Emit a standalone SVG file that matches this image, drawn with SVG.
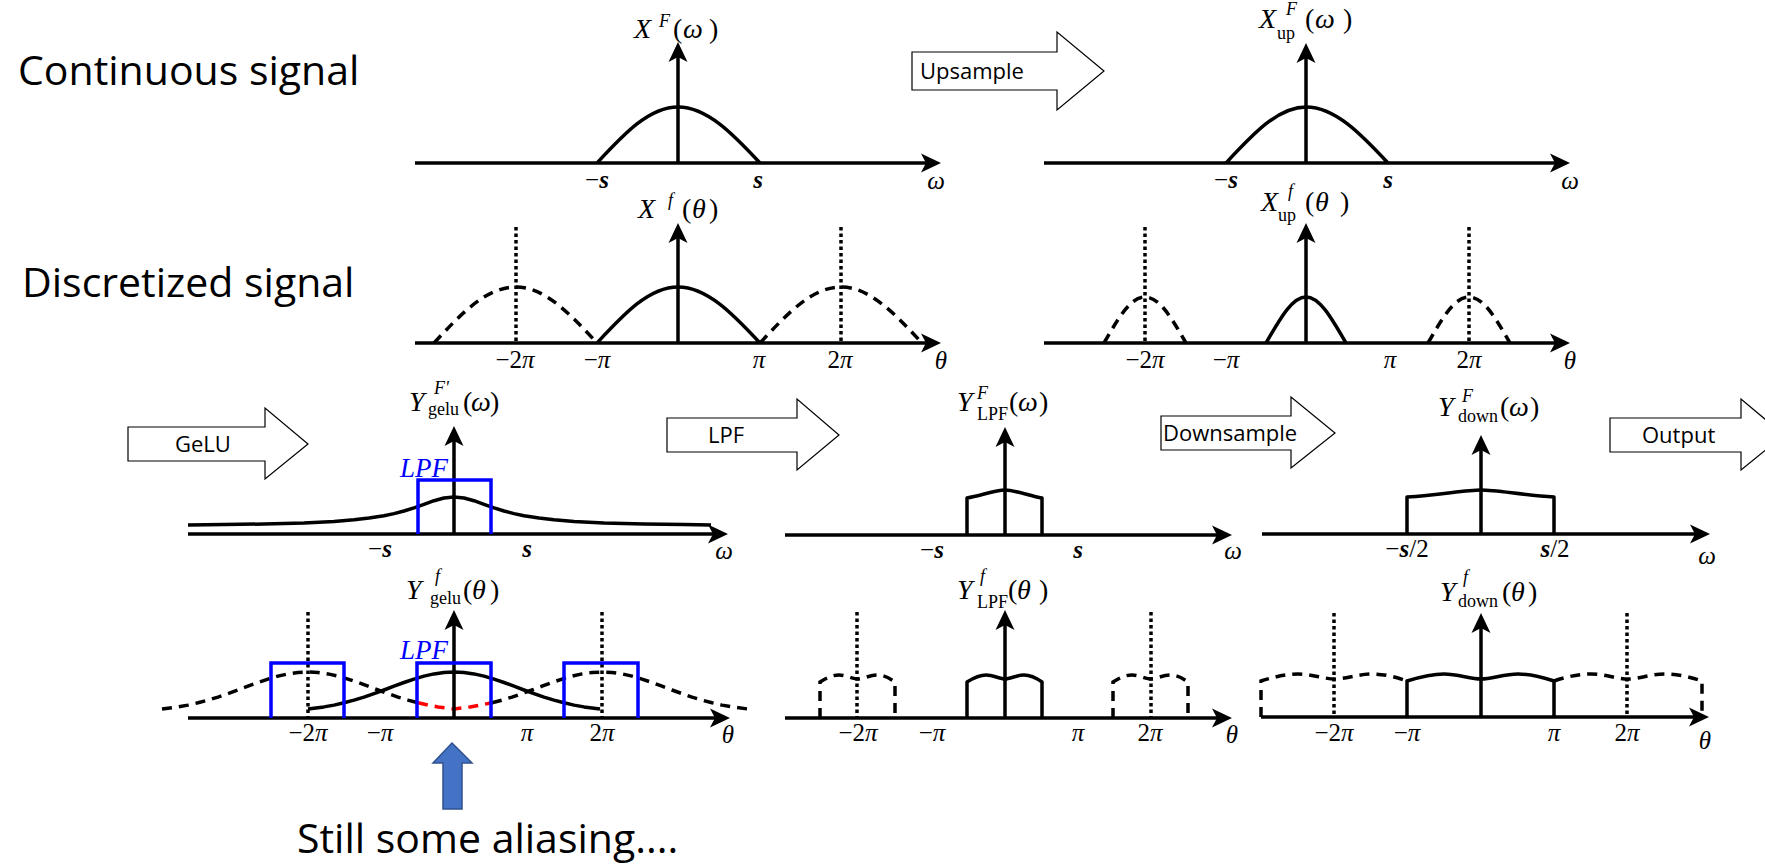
<svg xmlns="http://www.w3.org/2000/svg" width="1765" height="864" viewBox="0 0 1765 864">
<defs>
<marker id="ah" markerUnits="userSpaceOnUse" markerWidth="20" markerHeight="20" viewBox="0 0 20 20" refX="7" refY="10" orient="auto"><path d="M0,0.5 L20,10 L0,19.5 L5,10 Z" fill="#000"/></marker>
<style>
.ax{stroke:#000;stroke-width:3.5;fill:none;marker-end:url(#ah)}
.cv{stroke:#000;stroke-width:3.5;fill:none;stroke-linejoin:round}
.ds{stroke:#000;stroke-width:3.5;fill:none;stroke-dasharray:10 7}
.dt{stroke:#000;stroke-width:3.5;fill:none;stroke-dasharray:3.5 3}
.bl{stroke:#0000ff;stroke-width:3.5;fill:none}
.rd{stroke:#ff0000;stroke-width:3.5;fill:none;stroke-dasharray:10 7}
.ba{fill:#fff;stroke:#000;stroke-width:1.2}
.bt{font-family:"Open Sans",sans-serif;font-size:22px;fill:#000}
.big{font-family:"Open Sans",sans-serif;font-size:41px;fill:#000}
.m{font-family:"Liberation Serif",serif;font-size:28px;fill:#000}
.lb{font-family:"Liberation Serif",serif;font-size:25px;fill:#000;text-anchor:middle}
.i{font-style:italic}
.sm{font-size:18px}
.lpf{font-family:"Liberation Serif",serif;font-size:27px;font-style:italic;fill:#0000ff}
.b{font-weight:bold}
</style>
</defs>
<rect width="1765" height="864" fill="#fff"/>

<text class="big" x="18" y="85">Continuous signal</text>
<text class="big" x="22" y="297">Discretized signal</text>

<g id="connectors">
<path class="ba" d="M912,52 H1057 V32 L1104,71 L1057,110 V90 H912 Z"/>
<text class="bt" x="920" y="79">Upsample</text>
<path class="ba" d="M128,427 H265 V408 L308,444 L265,479 V461 H128 Z"/>
<text class="bt" x="175" y="452">GeLU</text>
<path class="ba" d="M667,418 H797 V399 L839,435 L797,470 V452 H667 Z"/>
<text class="bt" x="708" y="443">LPF</text>
<path class="ba" d="M1161,416 H1291 V397 L1335,433 L1291,468 V450 H1161 Z"/>
<text class="bt" x="1163" y="441">Downsample</text>
<path class="ba" d="M1610,418 H1741 V399 L1784,435 L1741,470 V452 H1610 Z"/>
<text class="bt" x="1642" y="443">Output</text>
<path d="M452,743 L472,763 L462,763 L462,809 L443,809 L443,763 L433,763 Z" fill="#4472c4" stroke="#2f528f" stroke-width="1.5"/>
</g>
<text class="big" x="297" y="853" font-size="38.5">Still some aliasing....</text>

<!-- Panel 1 -->
<g id="p1">
<path class="ax" d="M415,163 H928"/>
<path class="ax" d="M678,163 V55"/>
<path class="cv" d="M597,163 C624,134 649,107 678,107 C707,107 733,134 760,163"/>
<text class="m"><tspan class="i" x="634" y="38">X</tspan><tspan class="i sm" x="659" y="27">F</tspan><tspan x="673" y="38">(</tspan><tspan class="i" x="683" y="38">ω</tspan><tspan x="709" y="38">)</tspan></text>
<text class="lb" x="597" y="188">−<tspan class="i b">s</tspan></text>
<text class="lb i b" x="758" y="188">s</text>
<text class="lb i" x="936" y="189">ω</text>
</g>

<!-- Panel 2 -->
<g id="p2">
<path class="ax" d="M1044,163 H1557"/>
<path class="ax" d="M1306,163 V56"/>
<path class="cv" d="M1226,163 C1253,134 1278,107 1306,107 C1335,107 1361,134 1388,163"/>
<text class="m"><tspan class="i" x="1259" y="28">X</tspan><tspan class="i sm" x="1286" y="15">F</tspan><tspan class="sm" x="1277" y="39">up</tspan><tspan x="1305" y="28">(</tspan><tspan class="i" x="1315" y="28">ω</tspan><tspan x="1343" y="28">)</tspan></text>
<text class="lb" x="1226" y="188">−<tspan class="i b">s</tspan></text>
<text class="lb i b" x="1388" y="188">s</text>
<text class="lb i" x="1570" y="189">ω</text>
</g>

<!-- Panel 6 -->
<g id="p6">
<path class="dt" d="M516,227 V343 M841,227 V343"/>
<path class="ax" d="M415,343 H928"/>
<path class="ax" d="M678,343 V236"/>
<path class="cv" d="M597,343 C624,314 649,287 678,287 C707,287 733,314 760,343"/>
<path class="ds" d="M434,343 C461,314 486,287 516,287 C545,287 570,314 597,343"/>
<path class="ds" d="M760,343 C787,314 812,287 841,287 C870,287 895,314 922,343"/>
<text class="m"><tspan class="i" x="638" y="218">X</tspan><tspan class="i sm" x="668" y="206">f</tspan><tspan x="682" y="218">(</tspan><tspan class="i" x="692" y="218">θ</tspan><tspan x="709" y="218">)</tspan></text>
<text class="lb" x="515" y="368">−2<tspan class="i">π</tspan></text>
<text class="lb" x="597" y="368">−<tspan class="i">π</tspan></text>
<text class="lb i" x="759" y="368">π</text>
<text class="lb" x="840" y="368">2<tspan class="i">π</tspan></text>
<text class="lb i" x="941" y="369" font-size="27">θ</text>
</g>

<!-- Panel 7 -->
<g id="p7">
<path class="dt" d="M1145,227 V343 M1469,227 V343"/>
<path class="ax" d="M1044,343 H1557"/>
<path class="ax" d="M1306,343 V236"/>
<path class="cv" d="M1266,343 C1280,319 1292,297 1306,297 C1320,297 1332,319 1346,343"/>
<path class="ds" stroke-dasharray="9 6" d="M1104,343 C1118,319 1130,297 1145,297 C1160,297 1172,319 1186,343"/>
<path class="ds" stroke-dasharray="9 6" d="M1428,343 C1442,319 1454,297 1469,297 C1484,297 1496,319 1510,343"/>
<text class="m"><tspan class="i" x="1261" y="211">X</tspan><tspan class="i sm" x="1288" y="197">f</tspan><tspan class="sm" x="1278" y="221">up</tspan><tspan x="1305" y="211">(</tspan><tspan class="i" x="1315" y="211">θ</tspan><tspan x="1340" y="211">)</tspan></text>
<text class="lb" x="1145" y="368">−2<tspan class="i">π</tspan></text>
<text class="lb" x="1226" y="368">−<tspan class="i">π</tspan></text>
<text class="lb i" x="1390" y="368">π</text>
<text class="lb" x="1469" y="368">2<tspan class="i">π</tspan></text>
<text class="lb i" x="1570" y="369" font-size="27">θ</text>
</g>

<!-- Panel 3 -->
<g id="p3">
<path class="ax" d="M188,534 H715"/>
<path class="cv" d="M188,524.9 L224,524.6 L264,524 L304,522.9 L334,521.4 L354,519.8 L369,518.1 L384,515.7 L394,513.6 L404,511 L414,507.8 L424,504.3 L434,500.7 L444,498 L454,497 L464,498 L474,500.7 L484,504.3 L494,507.8 L504,511 L514,513.6 L524,515.7 L539,518.1 L554,519.8 L574,521.4 L604,522.9 L644,524 L684,524.6 L711,524.9"/>
<path class="ax" d="M454,534 V439"/>
<path class="bl" d="M418,534 V480 H491 V534"/>
<text class="lpf" x="400" y="477">LPF</text>
<text class="m"><tspan class="i" x="409" y="411">Y</tspan><tspan class="i sm" x="434" y="394">F'</tspan><tspan class="sm" x="428" y="415">gelu</tspan><tspan x="463" y="411">(</tspan><tspan class="i" x="471" y="411">ω</tspan><tspan x="490" y="411">)</tspan></text>
<text class="lb" x="380" y="557">−<tspan class="i b">s</tspan></text>
<text class="lb i b" x="527" y="557">s</text>
<text class="lb i" x="724" y="559">ω</text>
</g>

<!-- Panel 4 -->
<g id="p4">
<path class="ax" d="M785,535 H1219"/>
<path class="cv" d="M967,535 V498 C980,496 995,490 1005,490 C1015,490 1030,496 1042,498 V535"/>
<path class="ax" d="M1005,535 V440"/>
<text class="m"><tspan class="i" x="957" y="411">Y</tspan><tspan class="i sm" x="977" y="399">F</tspan><tspan class="sm" x="977" y="420">LPF</tspan><tspan x="1009" y="411">(</tspan><tspan class="i" x="1018" y="411">ω</tspan><tspan x="1039" y="411">)</tspan></text>
<text class="lb" x="932" y="558">−<tspan class="i b">s</tspan></text>
<text class="lb i b" x="1078" y="558">s</text>
<text class="lb i" x="1233" y="559">ω</text>
</g>

<!-- Panel 5 -->
<g id="p5">
<path class="ax" d="M1262,534 H1697"/>
<path class="cv" d="M1407,534 V497 C1440,495 1465,490 1481,490 C1497,490 1522,495 1554,497 V534"/>
<path class="ax" d="M1481,534 V448"/>
<text class="m"><tspan class="i" x="1438" y="416">Y</tspan><tspan class="i sm" x="1462" y="402">F</tspan><tspan class="sm" x="1458" y="422">down</tspan><tspan x="1500" y="416">(</tspan><tspan class="i" x="1509" y="416">ω</tspan><tspan x="1530" y="416">)</tspan></text>
<text class="lb" x="1407" y="557">−<tspan class="i b">s</tspan>/2</text>
<text class="lb" x="1555" y="557"><tspan class="i b">s</tspan>/2</text>
<text class="lb i" x="1707" y="564">ω</text>
</g>

<!-- Panel 8 -->
<g id="p8">
<path class="dt" d="M308,612 V718 M602,612 V718"/>
<path class="ax" d="M188,718 H717"/>
<path class="ds" d="M162,709 L178,706.9 L188,705.1 L198,702.8 L208,700.1 L218,697.1 L228,693.6 L238,690 L248,686.2 L258,682.5 L268,679.1 L278,676.1 L288,673.9 L298,672.5 L308,672 L318,672.5 L328,673.9 L338,676.1 L348,679.1 L358,682.5 L368,686.2 L378,690 L388,693.6 L398,697.1 L408,700.1 L418,702.8"/>
<path class="rd" d="M418,702.8 L428,705.1 L438,706.9 L454,709 L470,706.9 L480,705.1 L492,702.8"/>
<path class="ds" d="M492,702.8 L502,700.1 L512,697.1 L522,693.6 L532,690 L542,686.2 L552,682.5 L562,679.1 L572,676.1 L582,673.9 L592,672.5 L602,672 L612,672.5 L622,673.9 L632,676.1 L642,679.1 L652,682.5 L662,686.2 L672,690 L682,693.6 L692,697.1 L702,700.1 L712,702.8 L722,705.1 L732,706.9 L748,709"/>
<path class="cv" d="M308,709 L324,706.9 L334,705.1 L344,702.8 L354,700.1 L364,697.1 L374,693.6 L384,690 L394,686.2 L404,682.5 L414,679.1 L424,676.1 L434,673.9 L444,672.5 L454,672 L464,672.5 L474,673.9 L484,676.1 L494,679.1 L504,682.5 L514,686.2 L524,690 L534,693.6 L544,697.1 L554,700.1 L564,702.8 L574,705.1 L584,706.9 L600,709"/>
<path class="ax" d="M454,718 V623"/>
<path class="bl" d="M271,718 V663 H344 V718 M417,718 V663 H491 V718 M564,718 V663 H638 V718"/>
<text class="lpf" x="400" y="659">LPF</text>
<text class="m"><tspan class="i" x="406" y="599">Y</tspan><tspan class="i sm" x="435" y="582">f</tspan><tspan class="sm" x="430" y="604">gelu</tspan><tspan x="463" y="599">(</tspan><tspan class="i" x="472" y="599">θ</tspan><tspan x="490" y="599">)</tspan></text>
<text class="lb" x="308" y="741">−2<tspan class="i">π</tspan></text>
<text class="lb" x="380" y="741">−<tspan class="i">π</tspan></text>
<text class="lb i" x="527" y="741">π</text>
<text class="lb" x="602" y="741">2<tspan class="i">π</tspan></text>
<text class="lb i" x="728" y="743" font-size="27">θ</text>
</g>

<!-- Panel 9 -->
<g id="p9">
<path class="dt" d="M857,612 V718 M1151,612 V718"/>
<path class="ax" d="M785,718 H1219"/>
<path class="cv" d="M967,718 V682 C975,677 980,675 986,675 C993,675 1000,679 1005,679 C1010,679 1017,675 1024,675 C1030,675 1035,677 1042,682 V718"/>
<path class="ds" transform="translate(-147,0)" d="M967,718 V682 C975,677 980,675 986,675 C993,675 1000,679 1005,679 C1010,679 1017,675 1024,675 C1030,675 1035,677 1042,682 V718"/>
<path class="ds" transform="translate(146,0)" d="M967,718 V682 C975,677 980,675 986,675 C993,675 1000,679 1005,679 C1010,679 1017,675 1024,675 C1030,675 1035,677 1042,682 V718"/>
<path class="ax" d="M1005,718 V623"/>
<text class="m"><tspan class="i" x="957" y="599">Y</tspan><tspan class="i sm" x="980" y="582">f</tspan><tspan class="sm" x="977" y="608">LPF</tspan><tspan x="1008" y="599">(</tspan><tspan class="i" x="1017" y="599">θ</tspan><tspan x="1039" y="599">)</tspan></text>
<text class="lb" x="858" y="741">−2<tspan class="i">π</tspan></text>
<text class="lb" x="932" y="741">−<tspan class="i">π</tspan></text>
<text class="lb i" x="1078" y="741">π</text>
<text class="lb" x="1150" y="741">2<tspan class="i">π</tspan></text>
<text class="lb i" x="1232" y="743" font-size="27">θ</text>
</g>

<!-- Panel 10 -->
<g id="p10">
<path class="dt" d="M1334,613 V717 M1627,613 V717"/>
<path class="ax" d="M1261,717 H1696"/>
<path class="ds" d="M1261,717 V681 C1274,677 1286,674 1298,674 C1312,674 1324,679 1335,679 C1346,679 1358,674 1372,674 C1384,674 1396,677 1407,681"/>
<path class="ds" d="M1554,681 C1566,677 1578,674 1591,674 C1605,674 1617,679 1628,679 C1639,679 1651,674 1665,674 C1677,674 1690,677 1702,681 V717"/>
<path class="cv" d="M1407,717 V681 C1420,677 1432,674 1444,674 C1458,674 1470,679 1481,679 C1492,679 1504,674 1518,674 C1530,674 1542,677 1554,681 V717"/>
<path class="ax" d="M1481,717 V626"/>
<text class="m"><tspan class="i" x="1440" y="601">Y</tspan><tspan class="i sm" x="1463" y="583">f</tspan><tspan class="sm" x="1458" y="607">down</tspan><tspan x="1502" y="601">(</tspan><tspan class="i" x="1511" y="601">θ</tspan><tspan x="1528" y="601">)</tspan></text>
<text class="lb" x="1334" y="741">−2<tspan class="i">π</tspan></text>
<text class="lb" x="1407" y="741">−<tspan class="i">π</tspan></text>
<text class="lb i" x="1554" y="741">π</text>
<text class="lb" x="1627" y="741">2<tspan class="i">π</tspan></text>
<text class="lb i" x="1705" y="749" font-size="27">θ</text>
</g>
</svg>
